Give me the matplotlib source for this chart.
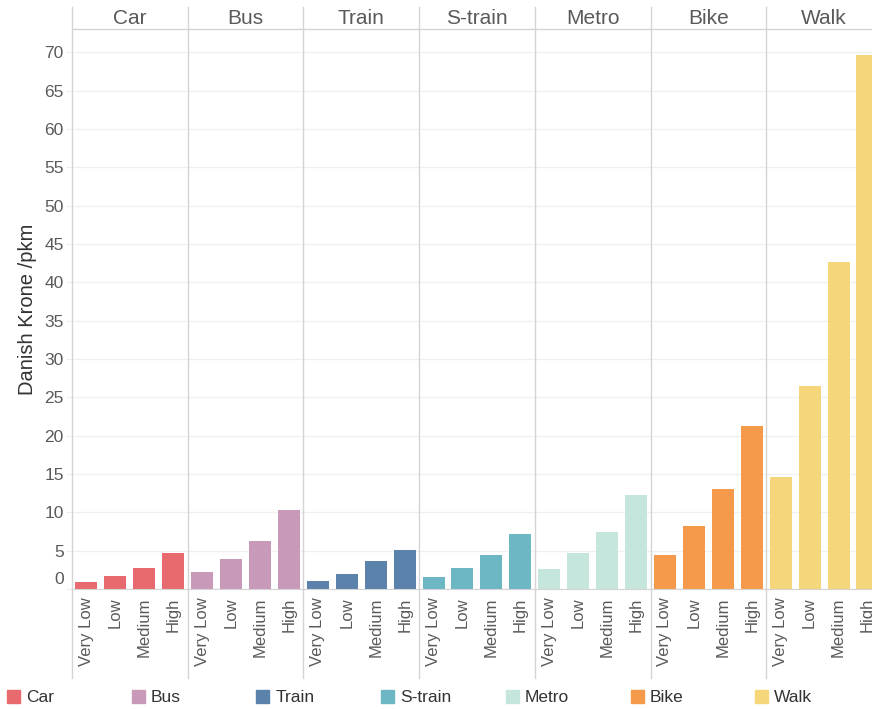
import matplotlib.pyplot as plt
import matplotlib.transforms as mtransforms
from matplotlib.lines import Line2D
from matplotlib.patches import Rectangle

plt.rcParams['font.family'] = ['Liberation Sans', 'DejaVu Sans']

modes = ["Car", "Bus", "Train", "S-train", "Metro", "Bike", "Walk"]
levels = ["Very Low", "Low", "Medium", "High"]
colors = ["#E8696E", "#C899B8", "#5B82AA", "#6DB6C4", "#C5E6DC", "#F49A4A", "#F5D67A"]

car = [0.9, 1.7, 2.7, 4.7]
bus = [2.2, 3.9, 6.3, 10.3]
train = [1.0, 2.0, 3.7, 5.1]
strain = [1.6, 2.7, 4.4, 7.2]
metro = [2.6, 4.7, 7.4, 12.3]
bike = [4.4, 8.2, 13.1, 21.3]
walk = [14.6, 26.5, 42.7, 69.6]
values = [car, bus, train, strain, metro, bike, walk]

yticks = list(range(0, 75, 5))

W, H = 872, 709
fig = plt.figure(figsize=(W / 100, H / 100), dpi=100)

text_col = "#5a5a5a"
line_col = "#d4d4d4"

x0 = 72
pw = 115.7
top_px = 29.3
base_px = 589

for i, m in enumerate(modes):
    ax = fig.add_axes([(x0 + i * pw) / W, (H - base_px) / H, pw / W, (base_px - top_px) / H])
    ax.bar(range(4), values[i], width=0.76, color=colors[i])
    ax.set_xlim(-0.5, 3.5)
    ax.set_ylim(0, 73)
    ax.set_yticks(yticks)
    ax.grid(axis='y', color='#f0f0f0', linewidth=1)
    ax.set_axisbelow(True)
    for s in ['top', 'right', 'left']:
        ax.spines[s].set_visible(False)
    ax.spines['bottom'].set_color(line_col)
    ax.set_xticks(range(4))
    ax.set_xticklabels(levels, rotation=90, fontsize=12, color=text_col)
    ax.tick_params(axis='x', length=0, pad=6)
    if i == 0:
        ax.set_yticklabels([str(t) for t in yticks], fontsize=12.5, color=text_col)
        ax.tick_params(axis='y', length=4, color='#eeeeee', pad=2)
        lab0 = ax.get_yticklabels()[0]
        lab0.set_transform(lab0.get_transform() + mtransforms.ScaledTranslation(0, 11 / 100, fig.dpi_scale_trans))
        ax.set_ylabel("Danish Krone /pkm", fontsize=14.5, color="#333333", labelpad=5)
    else:
        ax.set_yticklabels([])
        ax.tick_params(axis='y', length=0)
    fig.text((x0 + (i + 0.5) * pw) / W, 1 - 18 / H, m, ha='center', va='center',
             fontsize=15, color=text_col)

# panel dividers and header line
for i in range(8):
    xf = (x0 + i * pw) / W
    fig.add_artist(Line2D([xf, xf], [1 - 7 / H, 1 - 678 / H], color=line_col, linewidth=1))
fig.add_artist(Line2D([x0 / W, 1], [1 - top_px / H, 1 - top_px / H], color=line_col, linewidth=1))

# legend
for i, m in enumerate(modes):
    lx = 7 + i * 124.7
    fig.add_artist(Rectangle((lx / W, 1 - 703 / H), 13 / W, 13 / H, color=colors[i],
                             transform=fig.transFigure))
    fig.text((lx + 19) / W, 1 - 697 / H, m, ha='left', va='center', fontsize=12.5, color="#333333")

fig.savefig("out.png", dpi=100)
